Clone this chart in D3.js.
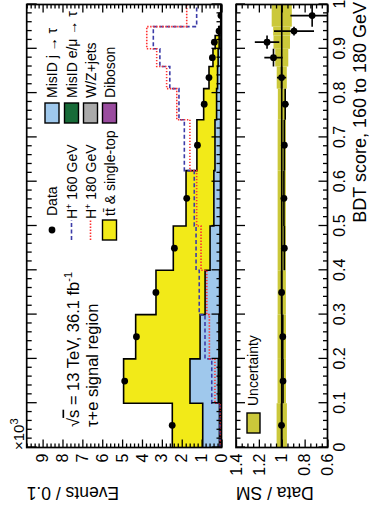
<!DOCTYPE html>
<html>
<head>
<meta charset="utf-8">
<script src="https://cdn.jsdelivr.net/npm/d3@7"></script>
<style>
  html, body { margin: 0; padding: 0; background: #ffffff; }
  svg { display: block; font-family: "Liberation Sans", Arial, Helvetica, sans-serif; }
</style>
</head>
<body>
<svg id="chart" width="369" height="512"></svg>
<script>
// BDT score bin edges (variable width at high score)
const binEdges = [0, 0.1, 0.2, 0.3, 0.4, 0.5, 0.625, 0.74, 0.81, 0.86, 0.9, 0.93, 0.95, 1.0];

// Events / 0.1, in units of 10^3
const dataEvents = [2.48, 4.87, 4.28, 3.30, 2.37, 1.75, 1.21, 0.87, 0.63, 0.46, 0.36, 0.125, 0.029];
const ttbar      = [1.53, 3.34, 3.24, 2.47, 1.85, 1.40, 0.91, 0.65, 0.43, 0.26, 0.20, 0.05, 0.02];
const misidJet   = [0.84, 1.425, 0.95, 0.73, 0.50, 0.33, 0.28, 0.21, 0.17, 0.145, 0.10, 0.078, 0.015];
const misidLep   = [0.06, 0.09, 0.07, 0.05, 0.04, 0.03, 0.025, 0.02, 0.015, 0.012, 0.01, 0.006, 0.002];
const wzJets     = [0.04, 0.06, 0.05, 0.04, 0.03, 0.02, 0.02, 0.015, 0.012, 0.01, 0.008, 0.005, 0.002];
const diboson    = [0.005, 0.01, 0.008, 0.006, 0.005, 0.004, 0.003, 0.002, 0.002, 0.002, 0.001, 0.001, 0.0005];

// Signal hypotheses (not stacked)
const hplus160 = [0.07, 0.49, 0.83, 1.12, 1.28, 1.37, 1.87, 2.14, 2.60, 3.10, 3.43, 3.43, 1.25];
const hplus180 = [0.05, 0.33, 0.61, 0.74, 1.03, 1.25, 1.59, 2.25, 2.76, 3.26, 3.76, 3.76, 1.75];

// Ratio panel: data stat. error and total prediction uncertainty (ratio units)
const ratioErr = [0.01, 0.01, 0.01, 0.01, 0.012, 0.014, 0.018, 0.03, 0.04, 0.08, 0.107, 0.175, 0.19];
const bandErr  = [0.045, 0.037, 0.037, 0.036, 0.036, 0.036, 0.036, 0.034, 0.044, 0.057, 0.072, 0.075, 0.088];

// Axis ticks
const eventTicks = d3.range(0, 10, 1);
const eventMinor = d3.range(0, 9.81, 0.2).filter(v => Math.abs(v - Math.round(v)) > 1e-6);
const bdtTicks = d3.range(0, 1.001, 0.1);
const bdtMinor = d3.range(0, 1.0001, 0.02).filter(v => Math.abs(v * 10 - Math.round(v * 10)) > 1e-6);
const ratioTicks = [0.6, 0.8, 1.0, 1.2, 1.4];
const ratioMinor = d3.range(0.6, 1.4001, 0.05).filter(v => Math.abs(v * 5 - Math.round(v * 5)) > 1e-6);

const colors = {
  tt: "#f2ea18", jet: "#9fc8ec", lep: "#176b38", wz: "#aaaaaa", db: "#9a4c9f",
  band: "#cbc83a", h160: "#3c3ca8", h180: "#ff3030"
};

// The plot is laid out landscape (512 x 369) and turned a quarter-turn counter-clockwise.
const W = 512;
const svg = d3.select("#chart");
const root = svg.append("g").attr("transform", `translate(0,${W}) rotate(-90)`);

const x  = d3.scaleLinear().domain([0, 1]).range([64.5, 507.5]);
const y  = d3.scaleLinear().domain([0, 9.8]).range([221.5, 26.7]);
const yr = d3.scaleLinear().domain([0.6, 1.4]).range([327.5, 236]);

const n = binEdges.length - 1;
const rows = d3.range(n).map(i => ({
  i, x0: binEdges[i], x1: binEdges[i + 1], xc: (binEdges[i] + binEdges[i + 1]) / 2,
  db: diboson[i], wz: wzJets[i], lep: misidLep[i], jet: misidJet[i], tt: ttbar[i],
  data: dataEvents[i]
}));
rows.forEach(r => { r.total = r.db + r.wz + r.lep + r.jet + r.tt; r.ratio = r.data / r.total; });

const keys = ["db", "wz", "lep", "jet", "tt"];
const stacked = d3.stack().keys(keys)(rows);

// step helpers: one point per bin edge, last edge repeats the last bin
const edgePts = vals => binEdges.map((e, k) => ({ e, v: vals[Math.min(k, n - 1)] }));

const main = root.append("g");
main.append("clipPath").attr("id", "clipMain")
  .append("rect").attr("x", x(0)).attr("y", y(9.8)).attr("width", x(1) - x(0)).attr("height", y(0) - y(9.8));
const plot = main.append("g").attr("clip-path", "url(#clipMain)");

const area = d3.area().curve(d3.curveStepAfter).x(d => x(d.e)).y0(d => y(d.v[0])).y1(d => y(d.v[1]));
const line = d3.line().curve(d3.curveStepAfter).x(d => x(d.e)).y(d => y(d.v));

stacked.forEach(layer => {
  const pts = edgePts(layer.map(d => [d[0], d[1]]));
  plot.append("path").attr("d", area(pts)).attr("fill", colors[layer.key]).attr("stroke", "none");
});
stacked.forEach(layer => {
  const pts = edgePts(layer.map(d => d[1]));
  plot.append("path").attr("d", line(pts)).attr("fill", "none").attr("stroke", "#000").attr("stroke-width", 1.6);
});

plot.append("path").attr("d", line(edgePts(hplus160))).attr("fill", "none")
  .attr("stroke", colors.h160).attr("stroke-width", 1.6).attr("stroke-dasharray", "4,2.5");
plot.append("path").attr("d", line(edgePts(hplus180))).attr("fill", "none")
  .attr("stroke", colors.h180).attr("stroke-width", 1.6).attr("stroke-dasharray", "1.4,1.6");

plot.selectAll("circle.data").data(rows).join("circle").attr("class", "data")
  .attr("cx", d => x(d.xc)).attr("cy", d => y(d.data)).attr("r", 3.4).attr("fill", "#000");

// Ratio panel
const rp = root.append("g");
rp.append("clipPath").attr("id", "clipRatio")
  .append("rect").attr("x", x(0)).attr("y", yr(1.4)).attr("width", x(1) - x(0)).attr("height", yr(0.6) - yr(1.4));
const rplot = rp.append("g").attr("clip-path", "url(#clipRatio)");

rplot.selectAll("rect.band").data(rows).join("rect").attr("class", "band")
  .attr("x", d => x(d.x0)).attr("width", d => x(d.x1) - x(d.x0))
  .attr("y", (d) => yr(1 + bandErr[d.i])).attr("height", d => yr(1 - bandErr[d.i]) - yr(1 + bandErr[d.i]))
  .attr("fill", colors.band);
rplot.append("line").attr("x1", x(0)).attr("x2", x(1)).attr("y1", yr(1)).attr("y2", yr(1))
  .attr("stroke", "#000").attr("stroke-width", 1.6);
rplot.selectAll("line.xerr").data(rows).join("line").attr("class", "xerr")
  .attr("x1", d => x(d.x0)).attr("x2", d => x(d.x1)).attr("y1", d => yr(d.ratio)).attr("y2", d => yr(d.ratio))
  .attr("stroke", "#000").attr("stroke-width", 1.6);
rplot.selectAll("line.yerr").data(rows).join("line").attr("class", "yerr")
  .attr("x1", d => x(d.xc)).attr("x2", d => x(d.xc))
  .attr("y1", d => yr(d.ratio - ratioErr[d.i])).attr("y2", d => yr(d.ratio + ratioErr[d.i]))
  .attr("stroke", "#000").attr("stroke-width", 1.6);
rplot.selectAll("circle.rdata").data(rows).join("circle").attr("class", "rdata")
  .attr("cx", d => x(d.xc)).attr("cy", d => yr(d.ratio)).attr("r", 3.4).attr("fill", "#000");

// Axes: ticks point inwards on all four sides of both panels
function ticks(axisFn, scale, values, size, at, labels, fontSize, pad) {
  const ax = axisFn(scale).tickValues(values).tickSize(-size).tickSizeOuter(0).tickPadding(pad || 3);
  if (!labels) ax.tickFormat("");
  else ax.tickFormat(labels);
  const g = root.append("g").attr("transform", at).call(ax);
  g.select(".domain").remove();
  g.selectAll(".tick line").attr("stroke", "#000").attr("stroke-width", 1.3);
  g.selectAll("text").attr("fill", "#000").attr("font-size", fontSize || 14).attr("font-family", null);
  return g;
}
const fmtNum = d => d3.format("")(+d.toFixed(2));

// main panel
ticks(d3.axisLeft, y, eventTicks, 8, `translate(${x(0)},0)`, fmtNum, 16, 6);
ticks(d3.axisLeft, y, eventMinor, 4, `translate(${x(0)},0)`);
ticks(d3.axisRight, y, eventTicks, 8, `translate(${x(1)},0)`);
ticks(d3.axisRight, y, eventMinor, 4, `translate(${x(1)},0)`);
ticks(d3.axisBottom, x, bdtTicks, 10, `translate(0,${y(0)})`);
ticks(d3.axisBottom, x, bdtMinor, 5, `translate(0,${y(0)})`);
ticks(d3.axisTop, x, bdtTicks, 10, `translate(0,${y(9.8)})`);
ticks(d3.axisTop, x, bdtMinor, 5, `translate(0,${y(9.8)})`);

// ratio panel
ticks(d3.axisLeft, yr, ratioTicks, 8, `translate(${x(0)},0)`, fmtNum, 16, 6);
ticks(d3.axisLeft, yr, ratioMinor, 4, `translate(${x(0)},0)`);
ticks(d3.axisRight, yr, ratioTicks, 8, `translate(${x(1)},0)`);
ticks(d3.axisRight, yr, ratioMinor, 4, `translate(${x(1)},0)`);
ticks(d3.axisBottom, x, bdtTicks, 9, `translate(0,${yr(0.6)})`, fmtNum, 16, 6);
ticks(d3.axisBottom, x, bdtMinor, 4.5, `translate(0,${yr(0.6)})`);
ticks(d3.axisTop, x, bdtTicks, 9, `translate(0,${yr(1.4)})`);
ticks(d3.axisTop, x, bdtMinor, 4.5, `translate(0,${yr(1.4)})`);

// Frames
[[y(9.8), y(0)], [yr(1.4), yr(0.6)]].forEach(([t, b]) => {
  root.append("rect").attr("x", x(0)).attr("y", t).attr("width", x(1) - x(0)).attr("height", b - t)
    .attr("fill", "none").attr("stroke", "#000").attr("stroke-width", 1.7);
});

// Titles
root.append("text").attr("transform", `translate(25,${y(9.8)}) rotate(-90)`).attr("text-anchor", "end")
  .attr("font-size", 17.5).text("Events / 0.1");
root.append("text").attr("transform", `translate(25,${yr(1.4)}) rotate(-90)`).attr("text-anchor", "end")
  .attr("font-size", 17.5).text("Data / SM");
root.append("text").attr("x", 510).attr("y", 366).attr("text-anchor", "end")
  .attr("font-size", 18).text("BDT score, 160 to 180 GeV");
const mult = root.append("text").attr("x", 62).attr("y", 24).attr("font-size", 15);
mult.append("tspan").text("×10");
mult.append("tspan").attr("dy", -6).attr("font-size", 11).text("3");

// Analysis labels
const lab = root.append("text").attr("x", 85).attr("y", 78.5).attr("font-size", 16.5);
lab.append("tspan").text("√");
lab.append("tspan").attr("text-decoration", "overline").text("s");
lab.append("tspan").text(" = 13 TeV, 36.1 fb");
lab.append("tspan").attr("dy", -7).attr("font-size", 11).text("-1");
root.append("text").attr("x", 85).attr("y", 97.5).attr("font-size", 16.5).text("τ+e signal region");

// Legend
const legRows = [52, 71.5, 90.5, 109.5];
const leg = root.append("g").attr("font-size", 14);
// column 1
leg.append("circle").attr("cx", 282).attr("cy", legRows[0]).attr("r", 3.4).attr("fill", "#000");
leg.append("text").attr("x", 296).attr("y", legRows[0] + 5).text("Data");
leg.append("line").attr("x1", 272).attr("x2", 292).attr("y1", legRows[1]).attr("y2", legRows[1])
  .attr("stroke", colors.h160).attr("stroke-width", 1.6).attr("stroke-dasharray", "4,2.5");
const t160 = leg.append("text").attr("x", 293).attr("y", legRows[1] + 5);
t160.append("tspan").text("H");
t160.append("tspan").attr("dy", -5).attr("font-size", 9).text("+");
t160.append("tspan").attr("dy", 5).text(" 160 GeV");
leg.append("line").attr("x1", 272).attr("x2", 292).attr("y1", legRows[2]).attr("y2", legRows[2])
  .attr("stroke", colors.h180).attr("stroke-width", 1.6).attr("stroke-dasharray", "1.4,1.6");
const t180 = leg.append("text").attr("x", 293).attr("y", legRows[2] + 5);
t180.append("tspan").text("H");
t180.append("tspan").attr("dy", -5).attr("font-size", 9).text("+");
t180.append("tspan").attr("dy", 5).text(" 180 GeV");
leg.append("rect").attr("x", 272).attr("y", legRows[3] - 7).attr("width", 20).attr("height", 14)
  .attr("fill", colors.tt).attr("stroke", "#000").attr("stroke-width", 1.4);
leg.append("text").attr("x", 296).attr("y", legRows[3] + 5).text("tt\u0304 & single-top");
// column 2
const col2 = [["jet", "MisID j → τ"], ["lep", "MisID e/μ → τ"], ["wz", "W/Z+jets"], ["db", "Diboson"]];
col2.forEach(([k, label], j) => {
  leg.append("rect").attr("x", 389).attr("y", legRows[j] - 7).attr("width", 20).attr("height", 14)
    .attr("fill", colors[k]).attr("stroke", "#000").attr("stroke-width", 1.4);
  leg.append("text").attr("x", 414).attr("y", legRows[j] + 5).text(label);
});
// ratio legend
leg.append("rect").attr("x", 79).attr("y", 247).attr("width", 20).attr("height", 13)
  .attr("fill", colors.band).attr("stroke", "#000").attr("stroke-width", 1.4);
leg.append("text").attr("x", 106).attr("y", 258).text("Uncertainty");
</script>
</body>
</html>
